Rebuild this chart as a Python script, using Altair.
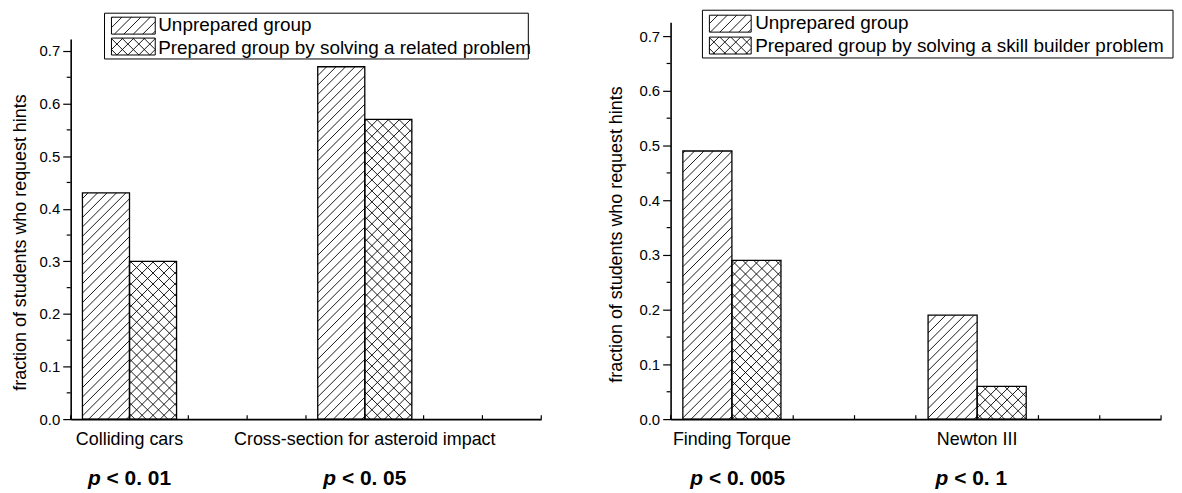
import altair as alt
import pandas as pd

# ---------------- data ----------------
left_tasks = ["Colliding cars", "Cross-section for asteroid impact"]
left_unprepared = [0.43, 0.67]
left_prepared = [0.30, 0.57]
left_p = ["< 0. 01", "< 0. 05"]
left_legend = ["Unprepared group", "Prepared group by solving a related problem"]

right_tasks = ["Finding Torque", "Newton III"]
right_unprepared = [0.49, 0.19]
right_prepared = [0.29, 0.06]
right_p = ["< 0. 005", "< 0. 1"]
right_legend = ["Unprepared group", "Prepared group by solving a skill builder problem"]

y_ticks = [0.0, 0.1, 0.2, 0.3, 0.4, 0.5, 0.6, 0.7]
y_minor = [0.05, 0.15, 0.25, 0.35, 0.45, 0.55, 0.65]
x_ticks = [0, 1, 2, 3, 4, 5, 6, 7, 8]

FONT = "Liberation Sans"
H = 399


def hatch(base, sx, sy, step, direction, X, Y, off):
    ch = base.transform_calculate(
        hw=f"abs((datum.x1 - datum.x0) * {sx})",
        hh=f"abs((datum.y1 - datum.y0) * {sy})",
    )
    if direction == "/":
        ch = ch.transform_calculate(
            c=f"sequence(-datum.hw + {off}, datum.hh, {step})"
        ).transform_flatten(["c"]).transform_calculate(
            ua="max(0, -datum.c)",
            ub="min(datum.hw, datum.hh - datum.c)",
        ).transform_calculate(
            va="datum.ua + datum.c",
            vb="datum.ub + datum.c",
        )
    else:
        ch = ch.transform_calculate(
            c=f"sequence({off}, datum.hw + datum.hh, {step})"
        ).transform_flatten(["c"]).transform_calculate(
            ua="max(0, datum.c - datum.hh)",
            ub="min(datum.hw, datum.c)",
        ).transform_calculate(
            va="datum.c - datum.ua",
            vb="datum.c - datum.ub",
        )
    ch = ch.transform_filter("datum.ub - datum.ua > 0.4").transform_calculate(
        xa=f"datum.x0 + datum.ua / {sx}",
        xb=f"datum.x0 + datum.ub / {sx}",
        ya=f"datum.y0 + datum.va / {sy}",
        yb=f"datum.y0 + datum.vb / {sy}",
    )
    return ch.mark_rule(color="black", strokeWidth=0.9).encode(
        x=X("xa"), x2="xb:Q", y=Y("ya"), y2="yb:Q",
    )


def panel(tasks, unprep, prep, pvals, legend_labels, W, ymax, ytop, title_x, title_y, leg):
    sx = W / 8.0
    sy = (H - ytop) / ymax
    xs = alt.Scale(domain=[0, 8], nice=False, zero=False)
    ys = alt.Scale(domain=[0, ymax], range=[H, ytop], nice=False, zero=False)

    xaxis = alt.Axis(ticks=False, labels=False, title=None, grid=False,
                     domainColor="black", domainWidth=1.6, zindex=1)
    yaxis = alt.Axis(values=y_ticks, format=".1f", grid=False, tickSize=8,
                     tickColor="black", tickWidth=1.2, domainColor="black",
                     domainWidth=1.6, labelFont=FONT, labelFontSize=15,
                     labelColor="black", labelPadding=3,
                     title="fraction of students who request hints",
                     titleFont=FONT, titleFontSize=18, titleFontWeight="normal",
                     titleColor="black", titleX=title_x, titleY=title_y,
                     titleBaseline="middle", titleAlign="center", zindex=1)

    def X(f):
        return alt.X(f"{f}:Q", scale=xs, axis=xaxis)

    def Y(f):
        return alt.Y(f"{f}:Q", scale=ys, axis=yaxis)

    # pixel (relative to plot origin) -> data units, for the in-plot legend
    def px2x(p):
        return p / sx

    def px2y(p):
        return (H - p) / sy

    rows = []
    for i, t in enumerate(tasks):
        rows.append({"task": t, "slot": i, "group": "unprepared", "value": unprep[i]})
        rows.append({"task": t, "slot": i, "group": "prepared", "value": prep[i]})
    df = pd.DataFrame(rows)

    base = alt.Chart(df).transform_calculate(
        center="1 + 4 * datum.slot",
        x0="datum.center + (datum.group == 'unprepared' ? -0.8 : 0)",
        x1="datum.x0 + 0.8",
        y0="0",
        y1="datum.value",
    )

    fill = base.mark_rect(fill="white", strokeOpacity=0).encode(
        x=X("x0"), x2="x1:Q", y=Y("y1"), y2="y0:Q")
    unp = base.transform_filter("datum.group == 'unprepared'")
    pre = base.transform_filter("datum.group == 'prepared'")
    h1 = hatch(unp, sx, sy, 9.5, "/", X, Y, 3)
    h2 = hatch(pre, sx, sy, 11, "/", X, Y, 5.5)
    h3 = hatch(pre, sx, sy, 11, "\\", X, Y, 5.5)
    outline = base.mark_rect(fillOpacity=0, stroke="black", strokeWidth=1.3).encode(
        x=X("x0"), x2="x1:Q", y=Y("y1"), y2="y0:Q")

    minor = alt.Chart(pd.DataFrame({"v": y_minor})).mark_rule(
        color="black", strokeWidth=1.2).encode(
        y=Y("v"), x=alt.value(0), x2=alt.value(-4))
    xt = alt.Chart(pd.DataFrame({"t": x_ticks})).mark_rule(
        color="black", strokeWidth=1.2).encode(
        x=X("t"), y=alt.value(H), y2=alt.value(H - 4))

    lab_df = pd.DataFrame({"task": tasks, "slot": list(range(len(tasks))), "rest": pvals})
    lab_base = alt.Chart(lab_df).transform_calculate(center="1 + 4 * datum.slot")
    labels = lab_base.mark_text(font=FONT, fontSize=18, color="black", align="center",
                                baseline="alphabetic").encode(
        x=X("center"), y=alt.value(H + 26), text="task:N")
    p_letter = lab_base.mark_text(text="p", font=FONT, fontSize=21, fontWeight="bold",
                                  fontStyle="italic", color="black", align="right",
                                  baseline="alphabetic", dx=-29).encode(
        x=X("center"), y=alt.value(H + 66))
    p_rest = lab_base.mark_text(font=FONT, fontSize=21, fontWeight="bold", color="black",
                                align="left", baseline="alphabetic", dx=-23).encode(
        x=X("center"), y=alt.value(H + 66), text="rest:N")

    # legend (inside plot, Origin style)
    box = alt.Chart(pd.DataFrame({"a": [0]})).mark_rect(
        fill="white", stroke="black", strokeWidth=1).encode(
        x=alt.value(leg["bx0"]), x2=alt.value(leg["bx1"]),
        y=alt.value(leg["by0"]), y2=alt.value(leg["by1"]))
    leg_df = pd.DataFrame({"label": legend_labels, "row": [0, 1],
                           "group": ["unprepared", "prepared"]})
    lb = alt.Chart(leg_df).transform_calculate(
        x0=str(px2x(leg["sx0"])), x1=str(px2x(leg["sx1"])),
        y1=f"datum.row == 0 ? {px2y(leg['s1'][0])} : {px2y(leg['s2'][0])}",
        y0=f"datum.row == 0 ? {px2y(leg['s1'][1])} : {px2y(leg['s2'][1])}",
        ty=f"datum.row == 0 ? {px2y(leg['t'][0])} : {px2y(leg['t'][1])}",
    )
    sw_fill = lb.mark_rect(fill="white", strokeOpacity=0).encode(
        x=X("x0"), x2="x1:Q", y=Y("y1"), y2="y0:Q")
    lu = lb.transform_filter("datum.group == 'unprepared'")
    lp = lb.transform_filter("datum.group == 'prepared'")
    lh1 = hatch(lu, sx, sy, 9.5, "/", X, Y, 3)
    lh2 = hatch(lp, sx, sy, 11, "/", X, Y, 5.5)
    lh3 = hatch(lp, sx, sy, 11, "\\", X, Y, 5.5)
    sw_out = lb.mark_rect(fillOpacity=0, stroke="black", strokeWidth=1).encode(
        x=X("x0"), x2="x1:Q", y=Y("y1"), y2="y0:Q")
    ltext = lb.mark_text(font=FONT, fontSize=19, color="black", align="left",
                         baseline="alphabetic").encode(
        x=alt.value(leg["tx"]), y=Y("ty"), text="label:N")

    return alt.layer(fill, h1, h2, h3, outline, minor, xt, labels, p_letter, p_rest,
                     box, sw_fill, lh1, lh2, lh3, sw_out, ltext).properties(
        width=W, height=H)


left_leg = {"bx0": 34, "bx1": 460, "by0": -9, "by1": 37,
            "sx0": 41, "sx1": 85, "s1": (-5, 12), "s2": (16, 33),
            "tx": 88, "t": (9, 32)}
right_leg = {"bx0": 32, "bx1": 505, "by0": -12, "by1": 36,
             "sx0": 39, "sx1": 81, "s1": (-7, 10), "s2": (15, 32),
             "tx": 85, "t": (7, 30)}

left = panel(left_tasks, left_unprepared, left_prepared, left_p, left_legend,
             473, 0.723, 16.8, -50.5, 221, left_leg)
right = panel(right_tasks, right_unprepared, right_prepared, right_p, right_legend,
              493, 0.7255, 0.0, -54.5, 213, right_leg)

chart = alt.hconcat(left, right, spacing=130, bounds="flush").properties(
    padding={"left": 3, "top": 0, "right": 0, "bottom": 0}
).configure_view(stroke=None)

chart.save("out.html", embed_options={"renderer": "svg", "actions": False})
